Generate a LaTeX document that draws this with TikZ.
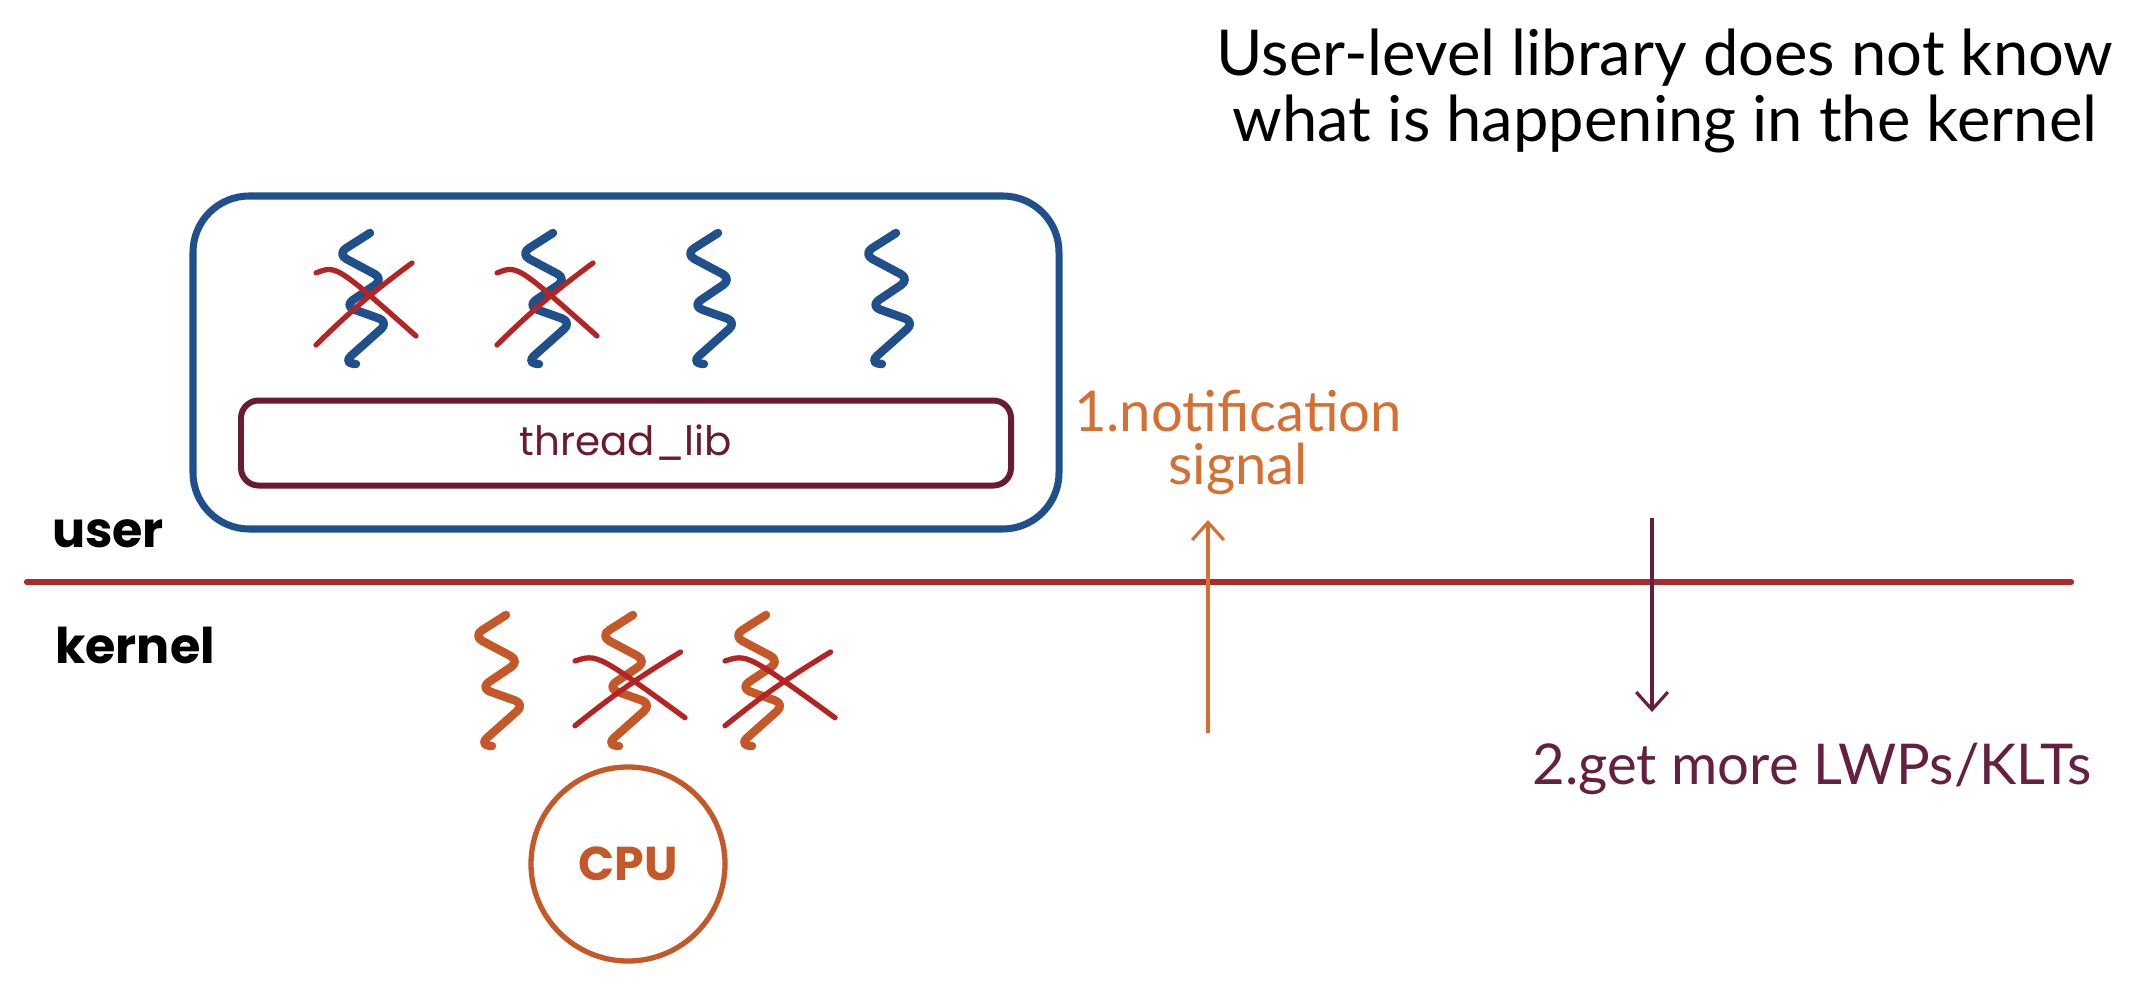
\documentclass[tikz,border=0pt]{standalone}
\usepackage{fontspec}
\setmainfont{Poppins}
\newfontfamily\handfont{Lato}
\usetikzlibrary{positioning,arrows.meta}
\definecolor{userblue}{RGB}{32,80,140}
\definecolor{libred}{RGB}{105,28,48}
\definecolor{splitred}{RGB}{172,42,40}
\definecolor{crossred}{RGB}{180,36,36}
\definecolor{kernorange}{RGB}{196,88,40}
\definecolor{sigorange}{RGB}{214,112,50}
\definecolor{askpurple}{RGB}{100,32,62}

\begin{document}
\begin{tikzpicture}[
  procbox/.style={rectangle, draw=userblue, line width=2pt, rounded corners=16pt,
                  minimum width=8.66cm, minimum height=3.33cm},
  libbox/.style={rectangle, draw=libred, line width=1.7pt, rounded corners=5pt,
                 minimum width=7.7cm, minimum height=0.85cm, text=libred,
                 font=\fontsize{11.5}{14}\selectfont},
  cpu/.style={circle, draw=kernorange, line width=1.5pt, minimum size=1.94cm,
              text=kernorange, font=\fontsize{13.5}{16}\selectfont\bfseries},
  mode/.style={font=\fontsize{14}{17}\selectfont\bfseries},
  hand/.style={font=\handfont\fontsize{16}{15}\selectfont, align=center, inner sep=0pt},
  sepline/.style={splitred, line width=1.8pt, line cap=round},
  arr/.style={-{Straight Barb[length=5pt,width=9pt]}, line width=0.9pt},
  threadline/.style={line width=2.4pt, line cap=round, line join=round, rounded corners=3pt},
  crossline/.style={crossred, line width=1.5pt, line cap=round},
  thread/.pic={
    \draw[threadline] (0.06,0.66) -- (-0.27,0.45) -- (0.2,0.2) -- (-0.2,-0.07)
      -- (0.25,-0.23) -- (-0.21,-0.64) -- (-0.08,-0.65);
  },
  xmark/.pic={
    \draw[crossline] (-0.5,0.3) .. controls (-0.3,0.38) .. (0.5,-0.33);
    \draw[crossline] (0.46,0.4) to[bend right=4] (-0.5,-0.42);
  }
]
  \path[use as bounding box, fill=white] (0,0) rectangle (21.54,9.84);

  \node[procbox] (proc) at (6.26,6.215) {};
  \node[libbox, above=0.44cm of proc.south] (lib) {thread\_lib};

  \foreach \x [count=\i] in {3.64,5.47,7.12,8.90}
    \pic[draw=userblue] (ult\i) at (\x,6.85) {thread};
  \pic (ultx1) at (3.66,6.81) {xmark};
  \pic (ultx2) at (5.47,6.81) {xmark};

  \node[mode] (user)   at (1.08,4.50) {user};
  \node[mode] (kernel) at (1.35,3.39) {kernel};

  \coordinate (lineL) at (0.27,4.02);
  \coordinate (lineR) at (20.71,4.02);
  \draw[sepline] (lineL) -- (lineR);

  \foreach \x [count=\i] in {5.00,6.27,7.60}
    \pic[draw=kernorange] (klt\i) at (\x,3.03) {thread};
  \pic[xscale=1.1, yscale=0.9] (kltx2) at (6.30,2.96) {xmark};
  \pic[xscale=1.1, yscale=0.9] (kltx3) at (7.80,2.96) {xmark};

  \node[cpu] (cpu) at (6.28,1.20) {CPU};

  \coordinate (sigfrom) at (12.08,2.51);
  \coordinate (sigto)   at (12.08,4.64);
  \draw[arr, sigorange] (sigfrom) -- (sigto);
  \node[hand, text=sigorange, above=0.25cm of sigto, xshift=0.3cm] (sig)
    {1.notification\\signal};

  \coordinate (moretop) at (16.52,4.66);
  \coordinate (morebot) at (16.52,2.72);
  \draw[arr, askpurple] (moretop) -- (morebot);
  \node[hand, text=askpurple, below=0.3cm of morebot, xshift=1.6cm] (more)
    {2.get more LWPs/KLTs};

  \node[hand, font=\handfont\fontsize{18}{19}\selectfont] (note) at (16.65,8.93)
    {User-level library does not know\\what is happening in the kernel};
\end{tikzpicture}
\end{document}
